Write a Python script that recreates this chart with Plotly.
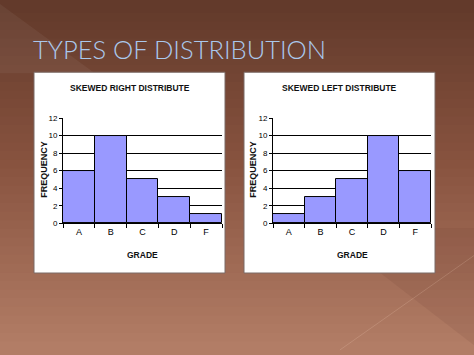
import plotly.graph_objects as go

grades = ["A", "B", "C", "D", "F"]
right_freq = [6, 10, 5, 3, 1]
left_freq = [1, 3, 5, 10, 6]
y_ticks = [0, 2, 4, 6, 8, 10, 12]
main_title = "TYPES OF DISTRIBUTION"
titles = ["SKEWED RIGHT DISTRIBUTE", "SKEWED LEFT DISTRIBUTE"]

W, H = 474, 355
fig = go.Figure()

shapes = []
# background vertical gradient (decoration)
top = (0x62, 0x3a, 0x2b)
mid = (0x88, 0x53, 0x3f)
bot = (0xb3, 0x7e, 0x67)
n = 40
for i in range(n):
    t = (i + 0.5) / n
    if t < 0.45:
        u = t / 0.45
        c = tuple(int(top[k] + (mid[k] - top[k]) * u) for k in range(3))
    else:
        u = (t - 0.45) / 0.55
        c = tuple(int(mid[k] + (bot[k] - mid[k]) * u) for k in range(3))
    y0 = 1 - (i + 1) / n - 0.002
    y1 = 1 - i / n
    if i == 0:
        y1 = 1.02
    if i == n - 1:
        y0 = -0.02
    shapes.append(dict(type="rect", xref="paper", yref="paper", x0=-0.02, x1=1.02,
                       y0=y0, y1=y1,
                       fillcolor="rgb(%d,%d,%d)" % c, line_width=0, layer="below"))
# subtle decorative diagonals
shapes.append(dict(type="path", xref="paper", yref="paper",
                   path="M 0 1 L 0.2 0.8 L 0 0.8 Z",
                   fillcolor="rgba(255,255,255,0.05)", line_width=0, layer="below"))
shapes.append(dict(type="path", xref="paper", yref="paper",
                   path="M 0.68 0.352 L 1 0.352 L 1 0.014 Z",
                   fillcolor="rgba(60,20,10,0.07)", line_width=0, layer="below"))
shapes.append(dict(type="line", xref="paper", yref="paper",
                   x0=0.717, y0=0.0, x1=1.0, y1=0.273,
                   line=dict(color="rgba(255,220,200,0.18)", width=1), layer="below"))

# white panels
for x0, x1 in [(34, 225), (244, 435)]:
    shapes.append(dict(type="rect", xref="paper", yref="paper",
                       x0=x0 / W, x1=x1 / W, y0=1 - 276 / H, y1=1 - 70 / H,
                       fillcolor="white", line=dict(color="#7a6a66", width=1), layer="below"))

fig.add_trace(go.Bar(x=grades, y=right_freq, xaxis="x", yaxis="y",
                     marker=dict(color="#9999ff", line=dict(color="black", width=1))))
fig.add_trace(go.Bar(x=grades, y=left_freq, xaxis="x2", yaxis="y2",
                     marker=dict(color="#9999ff", line=dict(color="black", width=1))))

xtickfont = dict(family="Liberation Sans, Arial", size=9, color="black")
ytickfont = dict(family="Liberation Sans, Arial", size=8, color="black")
ydom = [1 - 225 / H, 1 - 117 / H]
common_x = dict(type="category", tickson="boundaries", ticks="outside", ticklen=4,
                tickcolor="black", showline=True, linecolor="black", linewidth=1,
                tickfont=xtickfont, showgrid=False, fixedrange=True)
common_y = dict(range=[0, 12], tickvals=y_ticks, ticks="outside", ticklen=3,
                tickcolor="black", showline=True, linecolor="black", linewidth=1,
                showgrid=True, gridcolor="black", gridwidth=1, tickfont=ytickfont,
                zeroline=False, fixedrange=True)

fig.update_layout(
    width=W, height=H, margin=dict(l=0, r=0, t=0, b=0),
    paper_bgcolor="#8a5540", plot_bgcolor="#c0c0c0",
    showlegend=False, bargap=0, shapes=shapes,
    xaxis=dict(domain=[63 / W, 222 / W], anchor="y", **common_x),
    yaxis=dict(domain=ydom, anchor="x", **common_y),
    xaxis2=dict(domain=[273 / W, 431 / W], anchor="y2", **common_x),
    yaxis2=dict(domain=ydom, anchor="x2", **common_y),
)

ann = []
ann.append(dict(text=main_title, x=31 / W, y=1 - 46 / H, xref="paper", yref="paper",
                xanchor="left", yanchor="middle", showarrow=False,
                font=dict(family="Lato, Open Sans, sans-serif", size=25.5, color="#aac8ec", weight=300)))
lab_font = dict(family="Liberation Sans, Arial", size=8.5, color="#111", weight="bold")
for cx, t in [(130, titles[0]), (339, titles[1])]:
    ann.append(dict(text=t, x=cx / W, y=1 - 86 / H, xref="paper", yref="paper",
                    xanchor="center", yanchor="middle", showarrow=False, font=lab_font))
for cx in [142.5, 352]:
    ann.append(dict(text="GRADE", x=cx / W, y=1 - 258 / H, xref="paper", yref="paper",
                    xanchor="center", yanchor="middle", showarrow=False,
                    font=dict(family="Liberation Sans, Arial", size=8.5, color="#111", weight="bold")))
for cx in [44, 253]:
    ann.append(dict(text="FREQUENCY", x=cx / W, y=1 - 170 / H, xref="paper", yref="paper",
                    xanchor="center", yanchor="middle", showarrow=False, textangle=-90,
                    font=dict(family="Liberation Sans, Arial", size=9, color="#111", weight="bold")))
fig.update_layout(annotations=ann)

fig.write_html("out.html")
